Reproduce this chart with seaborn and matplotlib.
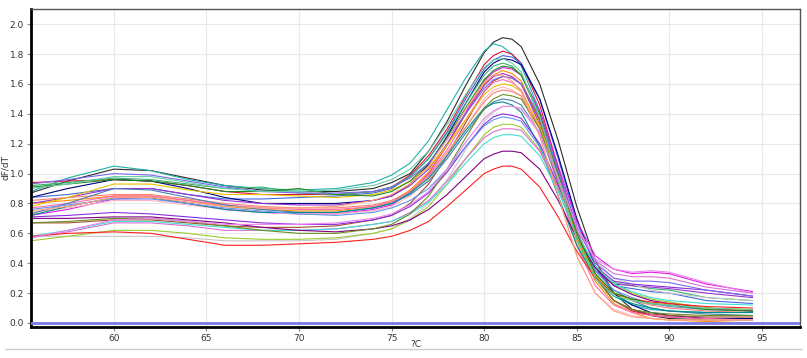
import numpy as np
import pandas as pd
import matplotlib
matplotlib.use("Agg")
import matplotlib.pyplot as plt
import seaborn as sns
from matplotlib.lines import Line2D

# Temperature grid (°C)
temps = [55.5, 57.5, 60, 62, 64, 66, 68, 70, 72, 74,
         75, 76, 77, 78, 79, 80, 80.5, 81, 81.5, 82, 83, 84, 85, 86, 87, 88, 89, 90,
         92, 94.5]

c01 = [0.87, 0.95, 1.03, 1.02, 0.97, 0.92, 0.89, 0.88, 0.88, 0.90, 0.94, 1.00, 1.15, 1.35, 1.59, 1.81, 1.88, 1.91, 1.90, 1.85, 1.60, 1.22, 0.78, 0.42, 0.20, 0.09, 0.05, 0.03, 0.02, 0.02]
c02 = [0.88, 0.97, 1.05, 1.02, 0.96, 0.92, 0.90, 0.89, 0.90, 0.94, 0.99, 1.07, 1.22, 1.43, 1.64, 1.82, 1.87, 1.85, 1.80, 1.72, 1.42, 1.02, 0.62, 0.33, 0.18, 0.12, 0.09, 0.08, 0.07, 0.07]
c03 = [0.94, 0.95, 0.96, 0.95, 0.92, 0.88, 0.86, 0.86, 0.86, 0.88, 0.91, 0.99, 1.12, 1.30, 1.52, 1.73, 1.79, 1.82, 1.80, 1.74, 1.46, 1.04, 0.62, 0.31, 0.15, 0.08, 0.05, 0.04, 0.03, 0.03]
c04 = [0.84, 0.86, 0.90, 0.90, 0.86, 0.83, 0.83, 0.84, 0.85, 0.87, 0.90, 0.98, 1.10, 1.28, 1.50, 1.70, 1.76, 1.79, 1.78, 1.74, 1.50, 1.10, 0.68, 0.38, 0.25, 0.23, 0.21, 0.20, 0.15, 0.13]
c05 = [0.84, 0.90, 0.96, 0.95, 0.90, 0.84, 0.80, 0.80, 0.80, 0.82, 0.85, 0.93, 1.06, 1.25, 1.47, 1.68, 1.74, 1.77, 1.76, 1.73, 1.50, 1.12, 0.70, 0.38, 0.20, 0.12, 0.07, 0.05, 0.03, 0.03]
c06 = [0.92, 0.94, 0.97, 0.96, 0.93, 0.90, 0.91, 0.87, 0.86, 0.88, 0.91, 0.98, 1.10, 1.27, 1.47, 1.66, 1.72, 1.74, 1.72, 1.66, 1.38, 0.98, 0.58, 0.35, 0.27, 0.25, 0.23, 0.22, 0.17, 0.15]
c07 = [0.72, 0.76, 0.83, 0.84, 0.80, 0.76, 0.74, 0.73, 0.73, 0.76, 0.79, 0.87, 1.00, 1.19, 1.41, 1.62, 1.68, 1.71, 1.70, 1.66, 1.42, 1.05, 0.68, 0.45, 0.36, 0.33, 0.34, 0.33, 0.26, 0.21]
c08 = [0.80, 0.82, 0.85, 0.85, 0.82, 0.78, 0.76, 0.75, 0.75, 0.78, 0.81, 0.89, 1.01, 1.19, 1.40, 1.60, 1.66, 1.69, 1.67, 1.62, 1.35, 0.95, 0.55, 0.28, 0.13, 0.07, 0.03, 0.02, 0.01, 0.00]
c09 = [0.80, 0.84, 0.90, 0.90, 0.86, 0.82, 0.80, 0.79, 0.79, 0.82, 0.85, 0.92, 1.03, 1.20, 1.40, 1.59, 1.65, 1.67, 1.65, 1.60, 1.33, 0.95, 0.58, 0.35, 0.26, 0.25, 0.24, 0.23, 0.20, 0.17]
c10 = [0.67, 0.67, 0.69, 0.69, 0.67, 0.65, 0.64, 0.64, 0.65, 0.69, 0.72, 0.80, 0.93, 1.12, 1.34, 1.55, 1.62, 1.65, 1.64, 1.60, 1.36, 0.98, 0.60, 0.32, 0.15, 0.09, 0.06, 0.05, 0.04, 0.04]
c11 = [0.77, 0.80, 0.85, 0.85, 0.82, 0.79, 0.77, 0.76, 0.76, 0.78, 0.81, 0.88, 0.99, 1.16, 1.36, 1.55, 1.61, 1.63, 1.61, 1.56, 1.30, 0.92, 0.52, 0.25, 0.12, 0.07, 0.05, 0.04, 0.03, 0.02]
c12 = [0.74, 0.77, 0.82, 0.82, 0.79, 0.76, 0.74, 0.73, 0.73, 0.75, 0.78, 0.85, 0.96, 1.12, 1.31, 1.50, 1.56, 1.58, 1.56, 1.52, 1.25, 0.85, 0.45, 0.20, 0.09, 0.05, 0.03, 0.02, 0.02, 0.02]
c13 = [0.82, 0.84, 0.86, 0.86, 0.83, 0.80, 0.78, 0.77, 0.77, 0.79, 0.82, 0.88, 0.98, 1.14, 1.31, 1.48, 1.54, 1.56, 1.55, 1.52, 1.30, 0.95, 0.58, 0.33, 0.20, 0.15, 0.12, 0.10, 0.08, 0.07]
c14 = [0.73, 0.80, 0.90, 0.89, 0.84, 0.79, 0.76, 0.74, 0.74, 0.77, 0.80, 0.86, 0.95, 1.10, 1.27, 1.43, 1.48, 1.50, 1.49, 1.46, 1.27, 0.95, 0.60, 0.35, 0.22, 0.15, 0.10, 0.08, 0.06, 0.05]
c15 = [0.72, 0.78, 0.84, 0.84, 0.80, 0.76, 0.74, 0.74, 0.74, 0.77, 0.80, 0.87, 0.97, 1.12, 1.29, 1.44, 1.47, 1.48, 1.46, 1.41, 1.18, 0.85, 0.52, 0.30, 0.18, 0.13, 0.10, 0.08, 0.07, 0.07]
c16 = [0.58, 0.58, 0.58, 0.58, 0.57, 0.55, 0.55, 0.55, 0.56, 0.60, 0.63, 0.70, 0.80, 0.96, 1.16, 1.35, 1.41, 1.45, 1.45, 1.44, 1.28, 0.98, 0.65, 0.42, 0.30, 0.26, 0.22, 0.20, 0.17, 0.15]
c17 = [0.71, 0.72, 0.74, 0.73, 0.71, 0.69, 0.67, 0.66, 0.66, 0.69, 0.72, 0.78, 0.87, 1.01, 1.18, 1.33, 1.38, 1.40, 1.39, 1.37, 1.20, 0.92, 0.60, 0.38, 0.28, 0.26, 0.25, 0.24, 0.22, 0.18]
c18 = [0.76, 0.79, 0.83, 0.83, 0.80, 0.77, 0.75, 0.73, 0.72, 0.74, 0.77, 0.82, 0.90, 1.03, 1.18, 1.32, 1.36, 1.38, 1.37, 1.35, 1.18, 0.90, 0.58, 0.35, 0.22, 0.17, 0.13, 0.11, 0.09, 0.08]
c19 = [0.55, 0.58, 0.62, 0.62, 0.60, 0.57, 0.56, 0.56, 0.57, 0.60, 0.63, 0.69, 0.78, 0.93, 1.10, 1.26, 1.31, 1.33, 1.33, 1.31, 1.16, 0.90, 0.60, 0.38, 0.26, 0.20, 0.16, 0.14, 0.10, 0.08]
c20 = [0.57, 0.61, 0.67, 0.67, 0.65, 0.62, 0.62, 0.62, 0.63, 0.66, 0.68, 0.74, 0.82, 0.95, 1.10, 1.24, 1.28, 1.30, 1.30, 1.29, 1.15, 0.90, 0.62, 0.42, 0.33, 0.31, 0.31, 0.30, 0.24, 0.20]
c21 = [0.58, 0.62, 0.68, 0.68, 0.66, 0.64, 0.62, 0.62, 0.63, 0.66, 0.68, 0.73, 0.81, 0.93, 1.07, 1.20, 1.24, 1.26, 1.26, 1.25, 1.12, 0.88, 0.60, 0.38, 0.26, 0.21, 0.17, 0.15, 0.13, 0.12]
c22 = [0.70, 0.70, 0.71, 0.71, 0.69, 0.67, 0.64, 0.62, 0.61, 0.63, 0.65, 0.69, 0.76, 0.86, 0.98, 1.10, 1.13, 1.15, 1.15, 1.14, 1.03, 0.82, 0.57, 0.37, 0.25, 0.19, 0.15, 0.13, 0.10, 0.08]
c23 = [0.58, 0.60, 0.61, 0.60, 0.56, 0.52, 0.52, 0.53, 0.54, 0.56, 0.58, 0.62, 0.68, 0.78, 0.89, 1.00, 1.03, 1.05, 1.05, 1.03, 0.91, 0.71, 0.48, 0.30, 0.20, 0.16, 0.14, 0.13, 0.11, 0.10]
c24 = [0.78, 0.84, 0.93, 0.93, 0.89, 0.86, 0.86, 0.85, 0.84, 0.86, 0.89, 0.95, 1.04, 1.19, 1.36, 1.53, 1.58, 1.60, 1.59, 1.55, 1.32, 0.96, 0.58, 0.32, 0.20, 0.15, 0.13, 0.12, 0.10, 0.09]
c25 = [0.91, 0.93, 0.96, 0.95, 0.92, 0.88, 0.88, 0.90, 0.86, 0.85, 0.88, 0.95, 1.07, 1.24, 1.44, 1.63, 1.69, 1.72, 1.71, 1.66, 1.40, 1.00, 0.60, 0.33, 0.20, 0.16, 0.13, 0.12, 0.09, 0.08]
c26 = [0.67, 0.68, 0.70, 0.70, 0.68, 0.65, 0.62, 0.60, 0.60, 0.63, 0.66, 0.73, 0.85, 1.03, 1.24, 1.44, 1.50, 1.53, 1.52, 1.50, 1.30, 0.95, 0.57, 0.30, 0.15, 0.09, 0.07, 0.06, 0.05, 0.05]
c27 = [0.93, 0.96, 1.00, 0.99, 0.95, 0.91, 0.88, 0.87, 0.87, 0.88, 0.91, 0.97, 1.07, 1.23, 1.40, 1.57, 1.63, 1.65, 1.64, 1.60, 1.38, 1.02, 0.65, 0.40, 0.30, 0.28, 0.28, 0.27, 0.22, 0.18]
c28 = [0.75, 0.78, 0.84, 0.84, 0.81, 0.78, 0.77, 0.77, 0.78, 0.82, 0.86, 0.93, 1.05, 1.23, 1.43, 1.61, 1.66, 1.66, 1.62, 1.55, 1.25, 0.85, 0.45, 0.20, 0.08, 0.04, 0.03, 0.02, 0.02, 0.02]
c29 = [0.90, 0.93, 0.98, 0.98, 0.94, 0.90, 0.88, 0.88, 0.89, 0.92, 0.96, 1.03, 1.15, 1.33, 1.53, 1.71, 1.76, 1.77, 1.74, 1.68, 1.38, 0.96, 0.56, 0.30, 0.18, 0.15, 0.13, 0.12, 0.10, 0.09]
c30 = [0.57, 0.62, 0.69, 0.70, 0.68, 0.66, 0.66, 0.66, 0.67, 0.70, 0.73, 0.79, 0.88, 1.03, 1.21, 1.37, 1.42, 1.45, 1.45, 1.43, 1.27, 0.97, 0.64, 0.43, 0.36, 0.34, 0.35, 0.34, 0.27, 0.20]

curves = {
    "S01": c01, "S02": c02, "S03": c03, "S04": c04, "S05": c05, "S06": c06,
    "S07": c07, "S08": c08, "S09": c09, "S10": c10, "S11": c11, "S12": c12,
    "S13": c13, "S14": c14, "S15": c15, "S16": c16, "S17": c17, "S18": c18,
    "S19": c19, "S20": c20, "S21": c21, "S22": c22, "S23": c23, "S24": c24,
    "S25": c25, "S26": c26, "S27": c27, "S28": c28, "S29": c29, "S30": c30,
}
colors = {
    "S01": "#2b2b2b", "S02": "#20b2aa", "S03": "#dc143c", "S04": "#4169e1",
    "S05": "#000080", "S06": "#3cb371", "S07": "#e020e0", "S08": "#ff8c00",
    "S09": "#9932cc", "S10": "#a0522d", "S11": "#ff69b4", "S12": "#ffb6c1",
    "S13": "#fa8072", "S14": "#4682b4", "S15": "#008b8b", "S16": "#c8c8c8",
    "S17": "#8a2be2", "S18": "#6495ed", "S19": "#9acd32", "S20": "#da70d6",
    "S21": "#40e0d0", "S22": "#800080", "S23": "#ff2020", "S24": "#e6c200",
    "S25": "#228b22", "S26": "#6b8e23", "S27": "#7b68ee", "S28": "#ffa07a",
    "S29": "#66cdaa", "S30": "#ee82ee",
}

xticks = [60, 65, 70, 75, 80, 85, 90, 95]
yticks = [0.0, 0.2, 0.4, 0.6, 0.8, 1.0, 1.2, 1.4, 1.6, 1.8, 2.0]

rows = []
for name, vals in curves.items():
    for t, v in zip(temps, vals):
        rows.append((name, t, v))
df = pd.DataFrame(rows, columns=["curve", "temp", "dfdt"])

sns.set_theme(style="white")
plt.rcParams['font.family'] = ['DejaVu Sans']

fig = plt.figure(figsize=(8.07, 3.58), dpi=100)
ax = fig.add_axes([31/807, 31/358, (800-31)/807, (327-9)/358])

ax.set_xlim(55.52, 97.06)
ax.set_ylim(-0.027, 2.102)
ax.set_xticks(xticks)
ax.set_yticks(yticks)
ax.set_yticklabels([f"{v:.1f}" for v in yticks])
ax.grid(True, color="#e8e8e8", lw=0.8)
ax.set_axisbelow(True)

sns.lineplot(data=df, x="temp", y="dfdt", hue="curve", palette=colors,
             legend=False, errorbar=None, estimator=None, sort=True,
             linewidth=0.8, ax=ax)
for ln in ax.get_lines():
    ln.set_solid_joinstyle("round")

ax.axhline(0.0, color="#7a7ae6", lw=2.0, zorder=5)

for s in ["left", "bottom"]:
    ax.spines[s].set_color("black")
    ax.spines[s].set_linewidth(2.0)
for s in ["top", "right"]:
    ax.spines[s].set_color("#555555")
    ax.spines[s].set_linewidth(1.0)

ax.tick_params(axis="both", which="both", length=3, width=0.8, color="#888888",
               labelsize=6.5, labelcolor="#333333", direction="out", pad=2,
               left=True, bottom=True)
ax.set_xlabel("?C", fontsize=6.5, color="#333333", labelpad=-2)
ax.set_ylabel("dF/dT", fontsize=6.5, color="#333333")
ax.yaxis.set_label_coords(-21/769, 0.5)

fig.add_artist(Line2D([5/807, 802/807], [1 - 349/358, 1 - 349/358],
                      color="#cccccc", lw=1.0, transform=fig.transFigure))

fig.savefig("out.png", dpi=100)
